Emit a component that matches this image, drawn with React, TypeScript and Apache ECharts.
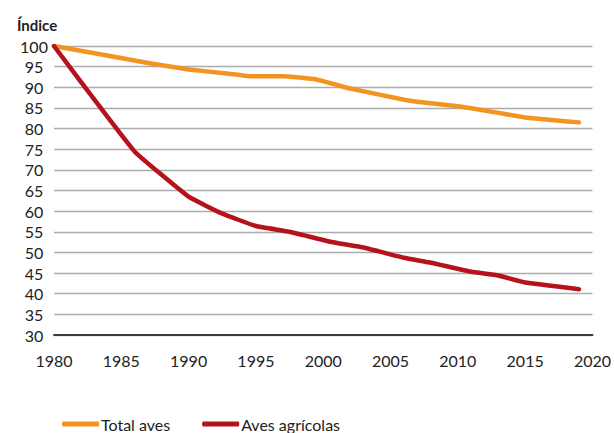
import React, { useEffect, useRef } from "react";
import * as echarts from "echarts";

// Índice de aves (1980 = 100)
const totalYears = [1980, 1987, 1990, 1993, 1994.5, 1997, 1999.5, 2002, 2006, 2007, 2010, 2012, 2015, 2019];
const totalValues = [100, 95.9, 94.3, 93.3, 92.7, 92.7, 91.9, 89.7, 87.0, 86.5, 85.4, 84.4, 82.7, 81.5];

const farmYears = [1980, 1982, 1986, 1990, 1992.5, 1995, 1997.5, 2000.5, 2003, 2006, 2008, 2011, 2013, 2015, 2019];
const farmValues = [100, 91.3, 74.4, 63.5, 59.4, 56.4, 55.0, 52.6, 51.2, 48.7, 47.5, 45.3, 44.4, 42.7, 41.1];

const seriesNames = ["Total aves", "Aves agrícolas"];
const seriesColors = ["#F39420", "#B5121B"];

const FONT = "Lato, 'Noto Sans', sans-serif";

const zip = (xs: number[], ys: number[]) => xs.map((x, i) => [x, ys[i]]);

export default function App() {
  const ref = useRef<HTMLDivElement>(null);

  useEffect(() => {
    if (!ref.current) return;
    const chart = echarts.init(ref.current, null, { renderer: "svg" });
    chart.setOption({
      animation: false,
      backgroundColor: "#ffffff",
      title: {
        text: "Índice",
        left: 12,
        top: 12,
        textStyle: { fontFamily: FONT, fontWeight: "bold", fontSize: 15, color: "#222" },
      },
      grid: { left: 54, right: 18, top: 46, bottom: 98 },
      xAxis: {
        type: "value",
        min: 1980,
        max: 2020,
        interval: 5,
        axisLine: { show: true, lineStyle: { color: "#3a3a3a", width: 2 } },
        axisTick: { show: false },
        splitLine: { show: false },
        axisLabel: {
          fontFamily: FONT,
          fontSize: 16,
          color: "#222",
          margin: 17,
          formatter: (v: number) => String(v),
        },
      },
      yAxis: {
        type: "value",
        min: 30,
        max: 100,
        interval: 5,
        axisLine: { show: false },
        axisTick: { show: false },
        splitLine: { show: true, lineStyle: { color: "#acacac", width: 1.3 } },
        axisLabel: {
          fontFamily: FONT,
          fontSize: 16,
          color: "#222",
          align: "center",
          margin: 20,
        },
      },
      legend: {
        left: 57,
        top: 411,
        itemWidth: 37,
        itemHeight: 5,
        itemGap: 32,
        icon: "roundRect",
        textStyle: { fontFamily: FONT, fontSize: 16, color: "#222", padding: [0, 0, 0, -3] },
        data: seriesNames,
      },
      series: [
        {
          name: seriesNames[0],
          type: "line",
          data: zip(totalYears, totalValues),
          showSymbol: false,
          symbol: "none",
          smooth: 0.1,
          color: seriesColors[0],
          lineStyle: { width: 4.5, color: seriesColors[0], cap: "round", join: "round" },
        },
        {
          name: seriesNames[1],
          type: "line",
          data: zip(farmYears, farmValues),
          showSymbol: false,
          symbol: "none",
          smooth: 0.1,
          color: seriesColors[1],
          lineStyle: { width: 4.5, color: seriesColors[1], cap: "round", join: "round" },
        },
      ],
    });
    return () => chart.dispose();
  }, []);

  return (
    <div
      ref={ref}
      style={{ position: "absolute", left: 0, top: 0, width: 614, height: 433 }}
    />
  );
}
